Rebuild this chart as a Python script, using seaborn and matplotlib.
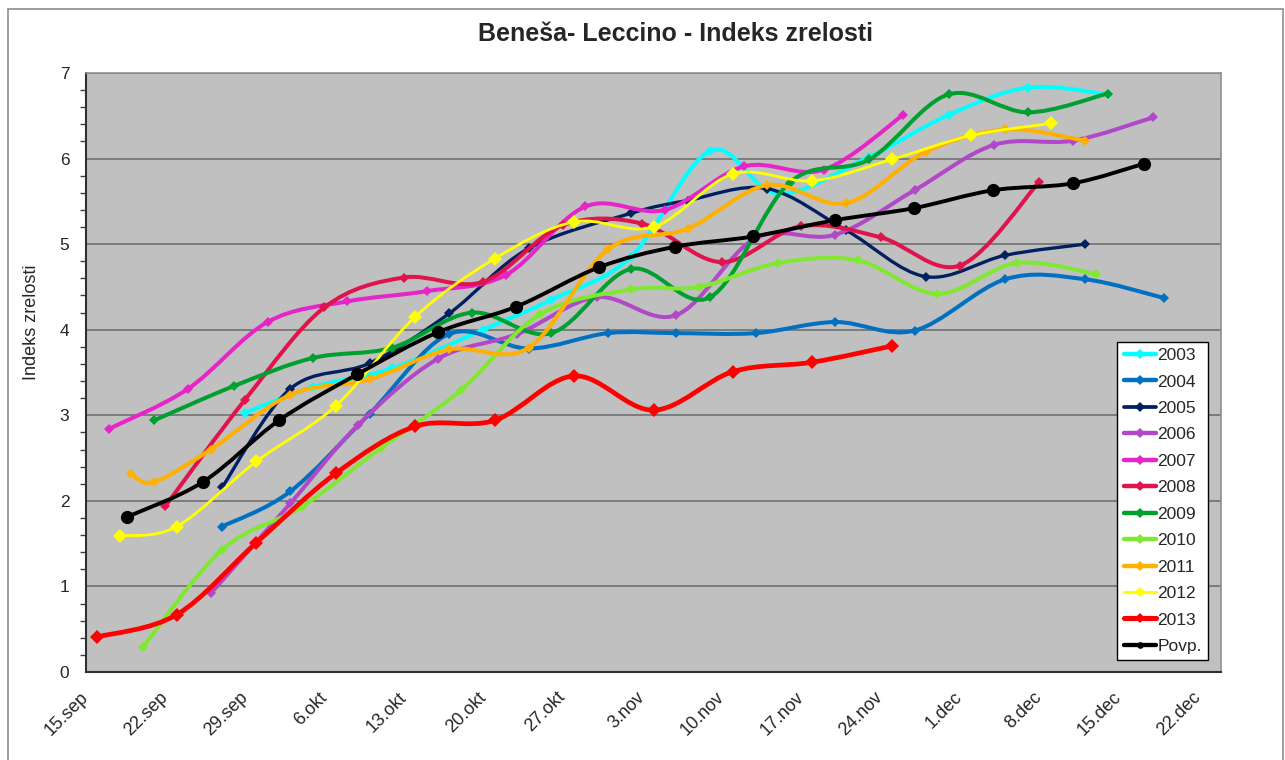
import numpy as np
import pandas as pd
import matplotlib
matplotlib.use("Agg")
import matplotlib.pyplot as plt
import matplotlib.dates as mdates
import matplotlib.transforms as mtransforms
from matplotlib.path import Path
from matplotlib.patches import PathPatch, Rectangle
from matplotlib.lines import Line2D
from matplotlib.ticker import MultipleLocator, FixedLocator
import seaborn as sns

# data (dates, maturity index)
d2003 = ["2013-09-29", "2013-10-05", "2013-10-12", "2013-10-20", "2013-10-26", "2013-11-02",
         "2013-11-09", "2013-11-15", "2013-11-23", "2013-11-30", "2013-12-07", "2013-12-14"]
v2003 = [3.03, 3.33, 3.55, 4.00, 4.35, 4.85, 6.09, 5.59, 6.02, 6.51, 6.83, 6.75]

d2004 = ["2013-09-27", "2013-10-03", "2013-10-10", "2013-10-17", "2013-10-24", "2013-10-31",
         "2013-11-06", "2013-11-13", "2013-11-20", "2013-11-27", "2013-12-05", "2013-12-12", "2013-12-19"]
v2004 = [1.70, 2.11, 3.02, 3.95, 3.78, 3.96, 3.96, 3.96, 4.09, 3.99, 4.59, 4.59, 4.37]

d2005 = ["2013-09-27", "2013-10-03", "2013-10-10", "2013-10-17", "2013-10-24", "2013-11-02",
         "2013-11-07", "2013-11-14", "2013-11-21", "2013-11-28", "2013-12-05", "2013-12-12"]
v2005 = [2.16, 3.31, 3.61, 4.19, 4.95, 5.36, 5.51, 5.65, 5.16, 4.62, 4.87, 5.00]

d2006 = ["2013-09-26", "2013-10-03", "2013-10-09", "2013-10-16", "2013-10-23", "2013-10-30",
         "2013-11-06", "2013-11-13", "2013-11-20", "2013-11-27", "2013-12-04", "2013-12-11", "2013-12-18"]
v2006 = [0.92, 1.97, 2.89, 3.66, 3.95, 4.38, 4.17, 5.07, 5.11, 5.63, 6.16, 6.21, 6.48]

d2007 = ["2013-09-17", "2013-09-24", "2013-10-01", "2013-10-08", "2013-10-15", "2013-10-22",
         "2013-10-29", "2013-11-05", "2013-11-12", "2013-11-19", "2013-11-26"]
v2007 = [2.84, 3.31, 4.09, 4.33, 4.45, 4.64, 5.44, 5.40, 5.91, 5.87, 6.51]

d2008 = ["2013-09-22", "2013-09-29", "2013-10-06", "2013-10-13", "2013-10-20", "2013-10-27",
         "2013-11-03", "2013-11-10", "2013-11-17", "2013-11-24", "2013-12-01", "2013-12-08"]
v2008 = [1.94, 3.18, 4.26, 4.61, 4.56, 5.22, 5.24, 4.79, 5.21, 5.08, 4.75, 5.73]

d2009 = ["2013-09-21", "2013-09-28", "2013-10-05", "2013-10-12", "2013-10-19", "2013-10-26",
         "2013-11-02", "2013-11-09", "2013-11-16", "2013-11-23", "2013-11-30", "2013-12-07", "2013-12-14"]
v2009 = [2.94, 3.34, 3.67, 3.79, 4.20, 3.96, 4.71, 4.38, 5.72, 5.99, 6.75, 6.54, 6.76]

d2010 = ["2013-09-20", "2013-09-27", "2013-10-04", "2013-10-11", "2013-10-18", "2013-10-25",
         "2013-11-02", "2013-11-08", "2013-11-15", "2013-11-22", "2013-11-29", "2013-12-06", "2013-12-13"]
v2010 = [0.29, 1.43, 1.93, 2.62, 3.29, 4.18, 4.47, 4.50, 4.78, 4.81, 4.42, 4.78, 4.65]

d2011 = ["2013-09-19", "2013-09-21", "2013-09-26", "2013-10-03", "2013-10-10", "2013-10-17",
         "2013-10-24", "2013-10-31", "2013-11-07", "2013-11-14", "2013-11-21", "2013-11-28",
         "2013-12-05", "2013-12-12"]
v2011 = [2.31, 2.22, 2.60, 3.24, 3.42, 3.77, 3.79, 4.94, 5.18, 5.69, 5.48, 6.08, 6.34, 6.21]

d2012 = ["2013-09-18", "2013-09-23", "2013-09-30", "2013-10-07", "2013-10-14", "2013-10-21",
         "2013-10-28", "2013-11-04", "2013-11-11", "2013-11-18", "2013-11-25", "2013-12-02", "2013-12-09"]
v2012 = [1.59, 1.70, 2.46, 3.11, 4.15, 4.83, 5.26, 5.20, 5.82, 5.74, 5.99, 6.27, 6.41]

d2013 = ["2013-09-16", "2013-09-23", "2013-09-30", "2013-10-07", "2013-10-14", "2013-10-21",
         "2013-10-28", "2013-11-04", "2013-11-11", "2013-11-18", "2013-11-25"]
v2013 = [0.41, 0.67, 1.51, 2.32, 2.87, 2.94, 3.46, 3.06, 3.51, 3.62, 3.81]

dpovp = ["2013-09-18 14:00", "2013-09-25 07:00", "2013-10-02 00:00", "2013-10-08 22:00",
         "2013-10-16 00:00", "2013-10-22 22:00", "2013-10-30 05:00", "2013-11-05 22:00",
         "2013-11-12 19:00", "2013-11-20 00:00", "2013-11-26 22:00", "2013-12-03 22:00",
         "2013-12-10 22:00", "2013-12-17 05:00"]
vpovp = [1.81, 2.22, 2.94, 3.48, 3.97, 4.27, 4.73, 4.97, 5.09, 5.28, 5.42, 5.63, 5.71, 5.94]

series_names = ["2003", "2004", "2005", "2006", "2007", "2008", "2009", "2010", "2011", "2012", "2013", "Povp."]
series_dates = [d2003, d2004, d2005, d2006, d2007, d2008, d2009, d2010, d2011, d2012, d2013, dpovp]
series_vals = [v2003, v2004, v2005, v2006, v2007, v2008, v2009, v2010, v2011, v2012, v2013, vpovp]

colors = ["#00FFFF", "#0070C0", "#002060", "#B048C8", "#E624C8", "#E0144C",
          "#00A030", "#80E830", "#FFB000", "#FFFF00", "#FF0000", "#000000"]
widths = [2.9, 2.9, 2.4, 2.9, 2.9, 2.9, 2.9, 2.9, 2.9, 2.0, 3.4, 2.8]
markers = ["D"] * 11 + ["o"]
msizes = [5.3] * 9 + [7.6, 7.6, 9.5]

tick_dates = pd.date_range("2013-09-15", "2013-12-22", freq="7D")
tick_labels = ["15.sep", "22.sep", "29.sep", "6.okt", "13.okt", "20.okt", "27.okt",
               "3.nov", "10.nov", "17.nov", "24.nov", "1.dec", "8.dec", "15.dec", "22.dec"]


def smooth_path(x, y):
    # Excel style smoothed line: cubic bezier through every point
    pts = np.column_stack([x, y])
    n = len(pts)
    verts = [pts[0]]
    codes = [Path.MOVETO]
    for i in range(n - 1):
        p0 = pts[max(i - 1, 0)]
        p1 = pts[i]
        p2 = pts[i + 1]
        p3 = pts[min(i + 2, n - 1)]
        verts += [p1 + (p2 - p0) / 6, p2 - (p3 - p1) / 6, p2]
        codes += [Path.CURVE4] * 3
    return Path(verts, codes)


sns.set_style("white")
plt.rcParams["font.family"] = ["Liberation Sans", "DejaVu Sans"]

fig = plt.figure(figsize=(12.85, 7.6), dpi=100)
ax = fig.add_axes([86 / 1285, 1 - 672 / 760, (1221 - 86) / 1285, (672 - 73) / 760])
ax.set_facecolor("#C0C0C0")

handles = []
for k, name in enumerate(series_names):
    dates = pd.to_datetime(series_dates[k])
    vals = np.array(series_vals[k])
    xs = mdates.date2num(dates)
    patch = PathPatch(smooth_path(xs, vals), fill=False, edgecolor=colors[k],
                      lw=widths[k], zorder=3 + k, capstyle="round", joinstyle="round")
    ax.add_patch(patch)
    sns.lineplot(x=dates, y=vals, ax=ax, color=colors[k], linestyle="", marker=markers[k],
                 markersize=msizes[k], markeredgewidth=0, zorder=3.5 + k, legend=False)
    handles.append(Line2D([], [], color=colors[k], lw=widths[k] + 0.3, marker=markers[k],
                          markersize=4.8, markeredgewidth=0, label=name))

ax.set_xlim(pd.Timestamp("2013-09-15"), pd.Timestamp("2013-12-24"))
ax.set_ylim(0, 7)
ax.xaxis.set_major_locator(FixedLocator(mdates.date2num(tick_dates)))
ax.set_xticklabels(tick_labels, rotation=45, ha="right", rotation_mode="anchor", fontsize=13)
ax.set_yticks(range(0, 8))
ax.set_yticklabels([str(i) for i in range(0, 8)], fontsize=12.5)
ax.yaxis.set_minor_locator(MultipleLocator(0.2))
ax.tick_params(axis="both", which="major", direction="out", length=6, width=1, color="#404040", pad=6)
ax.tick_params(axis="y", which="minor", direction="out", length=4, width=1, color="#404040", left=True)
ax.tick_params(axis="x", which="major", pad=6)
shift = mtransforms.ScaledTranslation(-6 / 100, 0, fig.dpi_scale_trans)
for lab in ax.get_xticklabels():
    lab.set_transform(lab.get_transform() + shift)
ax.grid(axis="y", color="#707070", lw=1.2)
ax.set_axisbelow(True)
for side in ["top", "right"]:
    ax.spines[side].set_color("#909090")
    ax.spines[side].set_linewidth(1.2)
for side in ["left", "bottom"]:
    ax.spines[side].set_color("#303030")
    ax.spines[side].set_linewidth(1.5)
ax.set_xlabel("")
ax.set_ylabel("")

leg = ax.legend(handles=handles, loc="lower right", bbox_to_anchor=(0.9885, 0.02),
                fontsize=12.5, frameon=True, fancybox=False, framealpha=1, edgecolor="black",
                handlelength=1.85, handletextpad=0.1, labelspacing=0.65, borderpad=0.35,
                borderaxespad=0)
leg.get_frame().set_linewidth(1)
leg.set_zorder(30)

fig.text(675 / 1285, 1 - 34 / 760, "Beneša- Leccino - Indeks zrelosti", ha="center", va="center",
         fontsize=18, fontweight="bold")
fig.text(31 / 1285, 1 - 322 / 760, "Indeks zrelosti", rotation=90, ha="center", va="center",
         fontsize=13)
fig.patches.append(Rectangle((8 / 1285, -0.01), 1275 / 1285, 1 - 9 / 760 + 0.01, fill=False,
                             edgecolor="#8C8C8C", lw=1.2, transform=fig.transFigure, figure=fig))

fig.savefig("out.png", dpi=100)
